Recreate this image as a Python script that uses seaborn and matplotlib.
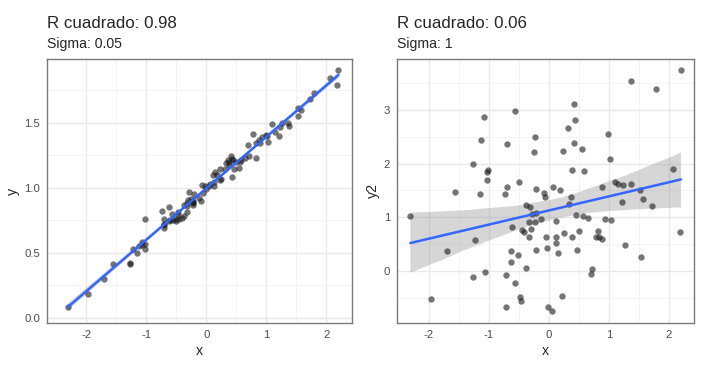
import numpy as np
import pandas as pd
import seaborn as sns
import matplotlib.pyplot as plt

# x is shared by both panels
x = [-2.31, -1.97, -1.70, -1.56, -1.27, -1.27, -1.23, -1.15, -1.13, -1.08,
     -1.07, -1.03, -1.03, -1.02, -0.74, -0.71, -0.71, -0.70, -0.70, -0.63,
     -0.63, -0.61, -0.57, -0.56, -0.51, -0.50, -0.48, -0.47, -0.45, -0.41,
     -0.38, -0.38, -0.33, -0.33, -0.32, -0.30, -0.29, -0.25, -0.23, -0.23,
     -0.22, -0.22, -0.21, -0.13, -0.09, -0.07, -0.05, -0.03, -0.01, 0.05,
     0.06, 0.11, 0.12, 0.12, 0.15, 0.18, 0.22, 0.23, 0.25, 0.31,
     0.33, 0.36, 0.38, 0.38, 0.41, 0.42, 0.43, 0.45, 0.46, 0.50,
     0.55, 0.56, 0.58, 0.65, 0.70, 0.71, 0.78, 0.82, 0.83, 0.88,
     0.89, 0.93, 0.99, 1.01, 1.03, 1.10, 1.15, 1.21, 1.23, 1.26,
     1.36, 1.37, 1.52, 1.53, 1.57, 1.72, 1.79, 2.06, 2.18, 2.20]

# y with sigma 0.05
y = [0.08, 0.18, 0.30, 0.41, 0.41, 0.42, 0.53, 0.50, 0.55, 0.58,
     0.56, 0.53, 0.76, 0.57, 0.82, 0.76, 0.69, 0.71, 0.72, 0.855,
     0.74, 0.75, 0.80, 0.75, 0.74, 0.76, 0.79, 0.81, 0.757, 0.77,
     0.78, 0.867, 0.81, 0.88, 0.86, 0.905, 0.97, 0.91, 0.88, 0.89,
     0.90, 0.87, 0.95, 0.92, 0.90, 1.02, 0.96, 1.01, 0.99, 1.01,
     1.03, 1.10, 1.04, 1.01, 1.12, 1.10, 1.06, 1.14, 1.07, 1.14,
     1.19, 1.21, 1.20, 1.175, 1.24, 1.22, 1.08, 1.21, 1.14, 1.20,
     1.15, 1.20, 1.21, 1.23, 1.33, 1.24, 1.41, 1.23, 1.34, 1.37,
     1.34, 1.39, 1.405, 1.40, 1.355, 1.49, 1.43, 1.40, 1.47, 1.495,
     1.495, 1.475, 1.55, 1.61, 1.60, 1.68, 1.73, 1.84, 1.79, 1.905]

# y2 with sigma 1
y2 = [1.03, -0.52, 0.38, 1.47, 1.99, -0.11, 0.58, 1.43, 2.45, 2.86,
      -0.01, 1.84, 1.70, 1.88, 1.43, -0.07, -0.68, 2.37, 1.57, 0.38,
      0.17, 0.82, 2.98, -0.23, 0.30, 1.65, -0.48, -0.55, 0.76, 0.73,
      1.23, 0.06, 0.91, 0.64, 1.20, 0.78, 1.06, 2.21, 2.50, 0.91,
      1.52, 1.08, 0.40, 0.97, 1.46, 1.38, 0.63, 0.42, -0.68, -0.74,
      1.57, 0.53, 0.93, 0.63, 0.34, 1.50, -0.46, 2.24, 0.71, 2.66,
      1.25, 1.38, 1.88, 0.63, 2.39, 3.12, 2.81, 1.04, 0.39, 0.75,
      2.27, 1.03, 1.86, 0.98, -0.06, 0.04, 0.64, 0.75, 0.63, 0.60,
      1.57, 0.97, 2.56, 2.08, 0.95, 1.65, 1.62, 1.29, 1.60, 0.48,
      3.54, 1.63, 1.51, 0.26, 1.35, 1.21, 3.39, 1.90, 0.73, 3.75]

titles = ["R cuadrado: 0.98", "R cuadrado: 0.06"]
subtitles = ["Sigma: 0.05", "Sigma: 1"]

df = pd.DataFrame({"x": x, "y": y, "y2": y2})

sns.set_style("white")
plt.rcParams['font.family'] = ['Liberation Sans', 'DejaVu Sans']

fig = plt.figure(figsize=(7.09, 3.73), dpi=100)
ax1 = fig.add_axes([47 / 709, 50 / 373, 305 / 709, 264 / 373])
ax2 = fig.add_axes([397 / 709, 50 / 373, 297 / 709, 264 / 373])

panels = [
    (ax1, "y", (-2.658, 2.425), (-0.041, 1.99), [0, 0.5, 1.0, 1.5], ["0.0", "0.5", "1.0", "1.5"],
     np.arange(0.25, 2.0, 0.5)),
    (ax2, "y2", (-2.533, 2.417), (-0.969, 3.95), [0, 1, 2, 3], ["0", "1", "2", "3"],
     np.arange(-0.5, 4.0, 1.0)),
]

for i, (ax, col, xl, yl, yt, ytl, yminor) in enumerate(panels):
    sns.scatterplot(data=df, x="x", y=col, ax=ax, color="#1a1a1a", alpha=0.6,
                    s=21, linewidth=0, zorder=3)
    sns.regplot(data=df, x="x", y=col, ax=ax, scatter=False, ci=95, seed=3,
                color="#3366FF", line_kws={"linewidth": 1.8, "zorder": 4})
    # ggplot-like grey confidence band
    for c in ax.collections[1:]:
        c.set_facecolor("#999999")
        c.set_alpha(0.4)
        c.set_edgecolor("none")
        c.set_zorder(2)

    ax.set_xlim(*xl)
    ax.set_ylim(*yl)
    ax.set_xticks([-2, -1, 0, 1, 2])
    ax.set_xticklabels(["-2", "-1", "0", "1", "2"])
    ax.set_yticks(yt)
    ax.set_yticklabels(ytl)
    ax.set_xticks([-1.5, -0.5, 0.5, 1.5], minor=True)
    ax.set_yticks(yminor, minor=True)
    ax.grid(which="major", color="#e8e8e8", linewidth=1.0, zorder=0)
    ax.grid(which="minor", color="#f2f2f2", linewidth=0.6, zorder=0)
    ax.set_axisbelow(True)
    ax.tick_params(which="major", direction="out", length=3, width=0.8,
                   color="#333333", labelsize=8.2, labelcolor="#4d4d4d", pad=2)
    ax.tick_params(which="minor", length=0)
    for sp in ax.spines.values():
        sp.set_color("#7a7a7a")
        sp.set_linewidth(1.0)
    ax.set_xlabel("x", fontsize=10.2, labelpad=3)
    ax.set_ylabel(col, fontsize=10.2, labelpad=3)

    ax.text(0.0, 1.0 + 31 / 264, titles[i], transform=ax.transAxes,
            fontsize=12.2, ha="left", va="baseline")
    ax.text(0.0, 1.0 + 11 / 264, subtitles[i], transform=ax.transAxes,
            fontsize=10.1, ha="left", va="baseline")

fig.savefig("out.png", dpi=100, facecolor="white")
